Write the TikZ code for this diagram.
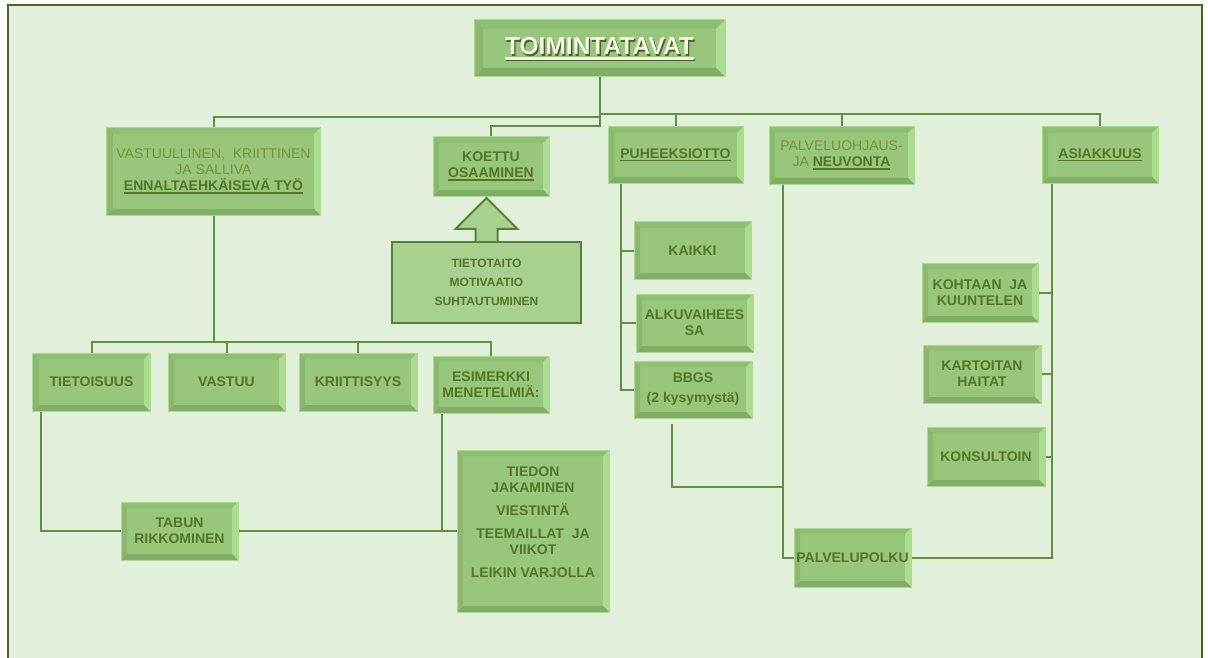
\documentclass[tikz,border=0pt]{standalone}
\usepackage{fontspec}
\setmainfont{Liberation Sans}
\usetikzlibrary{calc}

\definecolor{bgc}{HTML}{E2EFDA}
\definecolor{framec}{HTML}{4F6228}
\definecolor{face}{HTML}{98C77C}
\definecolor{bvl}{HTML}{88B96D}
\definecolor{bvt}{HTML}{8EBF73}
\definecolor{bvr}{HTML}{AADD8E}
\definecolor{bvb}{HTML}{7FAE64}
\definecolor{rim}{HTML}{A9DA8F}
\definecolor{ink}{HTML}{557526}
\definecolor{inklight}{HTML}{7A9138}
\definecolor{wire}{HTML}{5E9139}
\definecolor{flat}{HTML}{A9D18E}
\definecolor{flatedge}{HTML}{548235}
\definecolor{topink}{HTML}{F6F6E8}
\definecolor{topshade}{HTML}{4A5E2A}

% underlined text with a solid bar in the current colour
\newcommand\ulx[1]{\setbox0=\hbox{#1}\leavevmode\rlap{\copy0}\rule[-3.2bp]{\wd0}{1.6bp}}
\newcommand\ulxbig[1]{\setbox0=\hbox{#1}\leavevmode\rlap{\copy0}\rule[-5bp]{\wd0}{2.2bp}}
\newcommand\bx{\fontsize{14bp}{16bp}\selectfont\bfseries}
\newcommand\rg{\mdseries\color{inklight}}

\tikzset{
  bevel width/.store in=\bvw, bevel width=6bp,
  sz/.style 2 args={minimum width=#1bp, minimum height=#2bp},
  bevelbox/.style={
    rectangle, draw=rim, line width=1bp, fill=face, inner sep=1bp,
    align=center, text=ink, font=\bx,
    path picture={
      \coordinate (pa) at (path picture bounding box.north west);
      \coordinate (pb) at (path picture bounding box.north east);
      \coordinate (pc) at (path picture bounding box.south east);
      \coordinate (pd) at (path picture bounding box.south west);
      \coordinate (qa) at ([shift={(\bvw,-\bvw)}]pa);
      \coordinate (qb) at ([shift={(-\bvw,-\bvw)}]pb);
      \coordinate (qc) at ([shift={(-\bvw,\bvw)}]pc);
      \coordinate (qd) at ([shift={(\bvw,\bvw)}]pd);
      \fill[bvt] (pa)--(pb)--(qb)--(qa)--cycle;
      \fill[bvr] (pb)--(pc)--(qc)--(qb)--cycle;
      \fill[bvb] (pc)--(pd)--(qd)--(qc)--cycle;
      \fill[bvl] (pd)--(pa)--(qa)--(qd)--cycle;
    }
  },
  flatbox/.style={rectangle, draw=flatedge, line width=2bp, fill=flat,
    align=center, text=ink, font=\fontsize{12bp}{14bp}\selectfont\bfseries},
  conn/.style={draw=wire, line width=2bp}
}

\begin{document}
\begin{tikzpicture}[x=1bp, y=-1bp]
\useasboundingbox (0,0) rectangle (1208,658);
\fill[white] (0,0) rectangle (1208,658);
\fill[bgc] (8,5) rectangle (1202,658);
\draw[framec, line width=1.8bp] (8,662) -- (8,5) -- (1202,5) -- (1202,662);

% root
\node[bevelbox, bevel width=9bp, sz={251}{57}] (top) at (599.5,48.5) {};
\node[text=topshade, font=\fontsize{24.5bp}{28bp}\selectfont\bfseries, inner sep=0pt]
  (toptextshade) at ([shift={(1.3bp,-1.6bp)}]top.center) {\ulxbig{TOIMINTATAVAT}};
\node[text=topink, font=\fontsize{24.5bp}{28bp}\selectfont\bfseries, inner sep=0pt]
  (toptext) at (top.center) {\ulxbig{TOIMINTATAVAT}};

% first level
\node[bevelbox, sz={213}{87}] (vast) at (213.5,171.5)
  {{\rg VASTUULLINEN,\ \ KRIITTINEN}\\{\rg JA SALLIVA}\\\ulx{ENNALTAEHKÄISEVÄ TYÖ}};
\node[bevelbox, sz={116}{59}] (koe) at (491,166.5) {KOETTU\\\ulx{OSAAMINEN}};
\node[bevelbox, sz={135}{56}] (puhe) at (675.5,155) {\ulx{PUHEEKSIOTTO}};
\node[bevelbox, sz={145}{57}] (palv) at (841.5,155.5)
  {{\rg PALVELUOHJAUS-}\\{\rg JA} \ulx{NEUVONTA}};
\node[bevelbox, sz={116}{56}] (asia) at (1100,155) {\ulx{ASIAKKUUS}};

% competence box with its arrow
\node[flatbox, sz={189}{81}] (tieto) at (486.5,282.5) {};
\filldraw[fill=flat, draw=flatedge, line width=2bp, line join=miter]
  ([xshift=-11bp]tieto.north) -- ++(0,-12) -- ++(-20,0) -- ++(31,-31)
  -- ++(31,31) -- ++(-20,0) -- ++(0,12);
\node[flatbox, draw=none, fill=none] (tietotext) at (tieto.center)
  {TIETOTAITO\\[5bp]MOTIVAATIO\\[5bp]SUHTAUTUMINEN};

% speech therapy branch
\node[bevelbox, sz={117}{57}] (kaikki) at (692.5,250.5) {KAIKKI};
\node[bevelbox, sz={117}{58}] (alku) at (694.5,323) {ALKUVAIHEES\\SA};
\node[bevelbox, sz={118}{57}] (bbgs) at (693,389.5) {BBGS\\[4bp](2 kysymystä)};

% preventive work branch
\node[bevelbox, sz={117}{58}] (tietoi) at (91.5,382) {TIETOISUUS};
\node[bevelbox, sz={117}{58}] (vastuu) at (226.5,382) {VASTUU};
\node[bevelbox, sz={118}{58}] (kriit) at (358,382) {KRIITTISYYS};
\node[bevelbox, sz={116}{57}] (esim) at (491,384.5) {ESIMERKKI\\MENETELMIÄ:};
\node[bevelbox, sz={117}{58}] (tabun) at (179.5,531) {TABUN\\RIKKOMINEN};
\node[bevelbox, sz={152}{162}] (tiedon) at (533,531)
  {TIEDON\\JAKAMINEN\\[7bp]VIESTINTÄ\\[7bp]TEEMAILLAT\ \ JA\\VIIKOT\\[7bp]LEIKIN VARJOLLA\\[2bp]};

% service path and client branch
\node[bevelbox, sz={117}{59}] (polku) at (852.5,557.5) {PALVELUPOLKU};
\node[bevelbox, sz={116}{59}] (kohtaan) at (980,292.5) {KOHTAAN\ \ JA\\KUUNTELEN};
\node[bevelbox, sz={118}{58}] (kart) at (982,374) {KARTOITAN\\HAITAT};
\node[bevelbox, sz={118}{59}] (kons) at (986,456.5) {KONSULTOIN};

% junction levels
\coordinate (busL) at (0,117);
\coordinate (busR) at (0,114);
\coordinate (busK) at (0,126);
\coordinate (bus2) at (0,342);
\coordinate (busB) at (0,487);
\coordinate (pv) at ([xshift=13bp]puhe.south west);
\coordinate (qv) at ([xshift=14bp]palv.south west);
\coordinate (av) at ([xshift=10bp]asia.south west);

% root connectors
\draw[conn] (top.south) -- (top.south |- busK) -| (koe.north);
\draw[conn] (top.south |- busL) -| (vast.north);
\draw[conn] (top.south |- busR) -| (asia.north);
\draw[conn] (puhe.north |- busR) -- (puhe.north);
\draw[conn] (palv.north |- busR) -- (palv.north);

% preventive work connectors
\draw[conn] (vast.south) -- (vast.south |- bus2);
\draw[conn] (tietoi.north) -- (tietoi.north |- bus2) -| (esim.north);
\draw[conn] (vastuu.north) -- (vastuu.north |- bus2);
\draw[conn] (kriit.north) -- (kriit.north |- bus2);
\draw[conn] ([xshift=9bp]tietoi.south west) |- (tabun.west);
\draw[conn] (tabun.east) -- (tiedon.west);
\draw[conn] ([xshift=9bp]esim.south west) |- (tiedon.west);

% speech therapy connectors
\draw[conn] (pv) |- (bbgs.west);
\draw[conn] (kaikki.west) -- (kaikki.west -| pv);
\draw[conn] (alku.west) -- (alku.west -| pv);
\draw[conn] ([shift={(-21bp,-5bp)}]bbgs.south) |- (qv |- busB);

% guidance and client connectors
\draw[conn] (qv) |- (polku.west);
\draw[conn] (av) |- (polku.east);
\draw[conn] (kohtaan.east) -- (kohtaan.east -| av);
\draw[conn] (kart.east) -- (kart.east -| av);
\draw[conn] (kons.east) -- (kons.east -| av);
\end{tikzpicture}
\end{document}
